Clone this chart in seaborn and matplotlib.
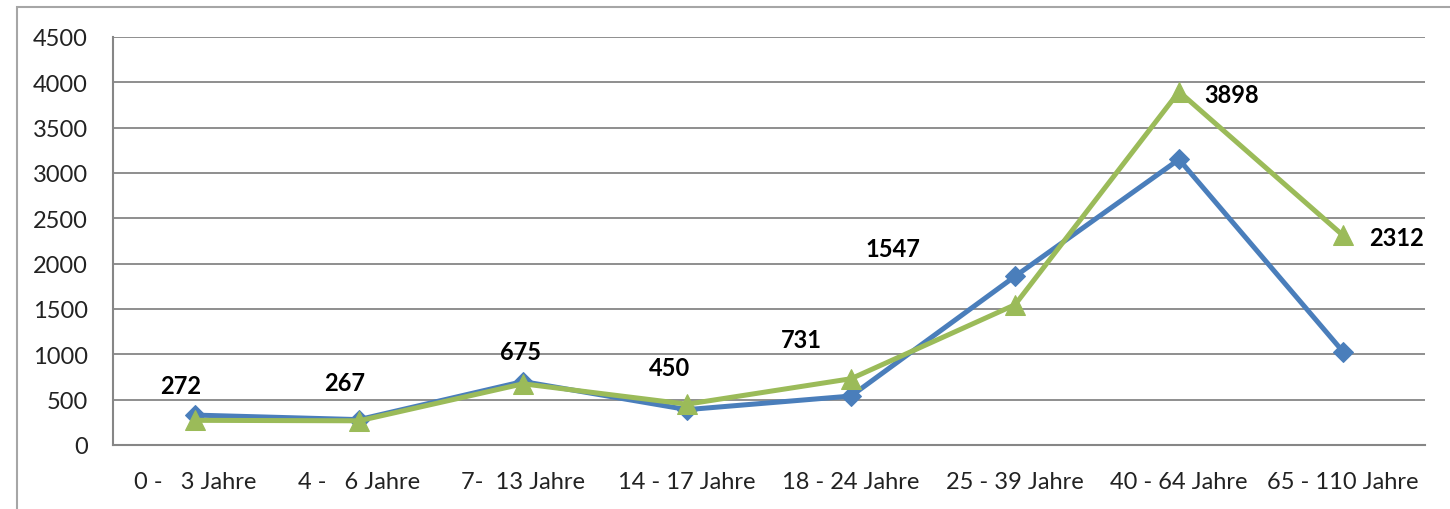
import numpy as np
import pandas as pd
import matplotlib
matplotlib.use('Agg')
import matplotlib.pyplot as plt
from matplotlib.patches import Rectangle
import seaborn as sns

# Daten
kategorien = ['0 -   3 Jahre', '4 -   6 Jahre', '7-  13 Jahre', '14 - 17 Jahre',
              '18 - 24 Jahre', '25 - 39 Jahre', '40 - 64 Jahre', '65 - 110 Jahre']
werte_blau = [330, 280, 700, 390, 540, 1860, 3150, 1030]
werte_gruen = [272, 267, 675, 450, 731, 1547, 3898, 2312]
y_ticks = [0, 500, 1000, 1500, 2000, 2500, 3000, 3500, 4000, 4500]

BLAU = '#4a7ebb'
GRUEN = '#9bbb59'
GRAU = '#868686'

sns.set_theme(style='white')
plt.rcParams['font.family'] = ['Lato', 'DejaVu Sans']

df = pd.DataFrame({'kat': kategorien, 'blau': werte_blau, 'gruen': werte_gruen})

fig = plt.figure(figsize=(14.5, 5.1), dpi=100, facecolor='white')
ax = fig.add_axes([113/1450, 64/510, (1425-113)/1450, (446-38)/510])

sns.lineplot(data=df, x='kat', y='blau', ax=ax, color=BLAU, linewidth=3.6,
             marker='D', markersize=10, markeredgecolor=BLAU, sort=False, zorder=3)
sns.lineplot(data=df, x='kat', y='gruen', ax=ax, color=GRUEN, linewidth=3.6,
             marker='^', markersize=14, markeredgecolor=GRUEN, sort=False, zorder=4)

# Beschriftungen (manuell versetzt wie im Original)
offsets = [(-14, 35), (-14, 38), (-2, 32), (-17, 37), (-50, 39), (-122, 56), (53, -3), (54, -2)]
for i, (v, off) in enumerate(zip(werte_gruen, offsets)):
    ax.annotate(str(v), (i, v), xytext=off, textcoords='offset pixels',
                ha='center', va='center', fontsize=17, fontweight='bold', color='black')

ax.set_xlim(-0.5, len(kategorien) - 0.5)
ax.set_ylim(0, 4500)
ax.set_yticks(y_ticks)
ax.set_yticklabels([str(t) for t in y_ticks], fontsize=17, color='#222222')
ax.set_xticks(range(len(kategorien)))
ax.set_xticklabels(kategorien, fontsize=17, color='#222222')
ax.set_xticks(np.arange(-0.5, len(kategorien)), minor=True)
ax.tick_params(axis='x', which='major', length=0, pad=19)
ax.tick_params(axis='x', which='minor', length=7, width=1.5, color=GRAU, direction='out')
ax.tick_params(axis='y', which='major', length=6, width=1.5, color=GRAU, direction='out', pad=12)
ax.set_xlabel('')
ax.set_ylabel('')

ax.grid(True, axis='y', color=GRAU, linewidth=1.3)
ax.grid(False, axis='x')
ax.set_axisbelow(True)
for s in ['top', 'right']:
    ax.spines[s].set_visible(False)
for s in ['left', 'bottom']:
    ax.spines[s].set_color(GRAU)
    ax.spines[s].set_linewidth(1.5)

# Rahmen des Diagrammbereichs
fig.patches.append(Rectangle((17/1450, -0.2), 1.2, 0.2 + (510-8)/510, fill=False,
                             edgecolor='#a6a6a6', linewidth=1.5,
                             transform=fig.transFigure, figure=fig))

fig.savefig('out.png', dpi=100, facecolor='white')
